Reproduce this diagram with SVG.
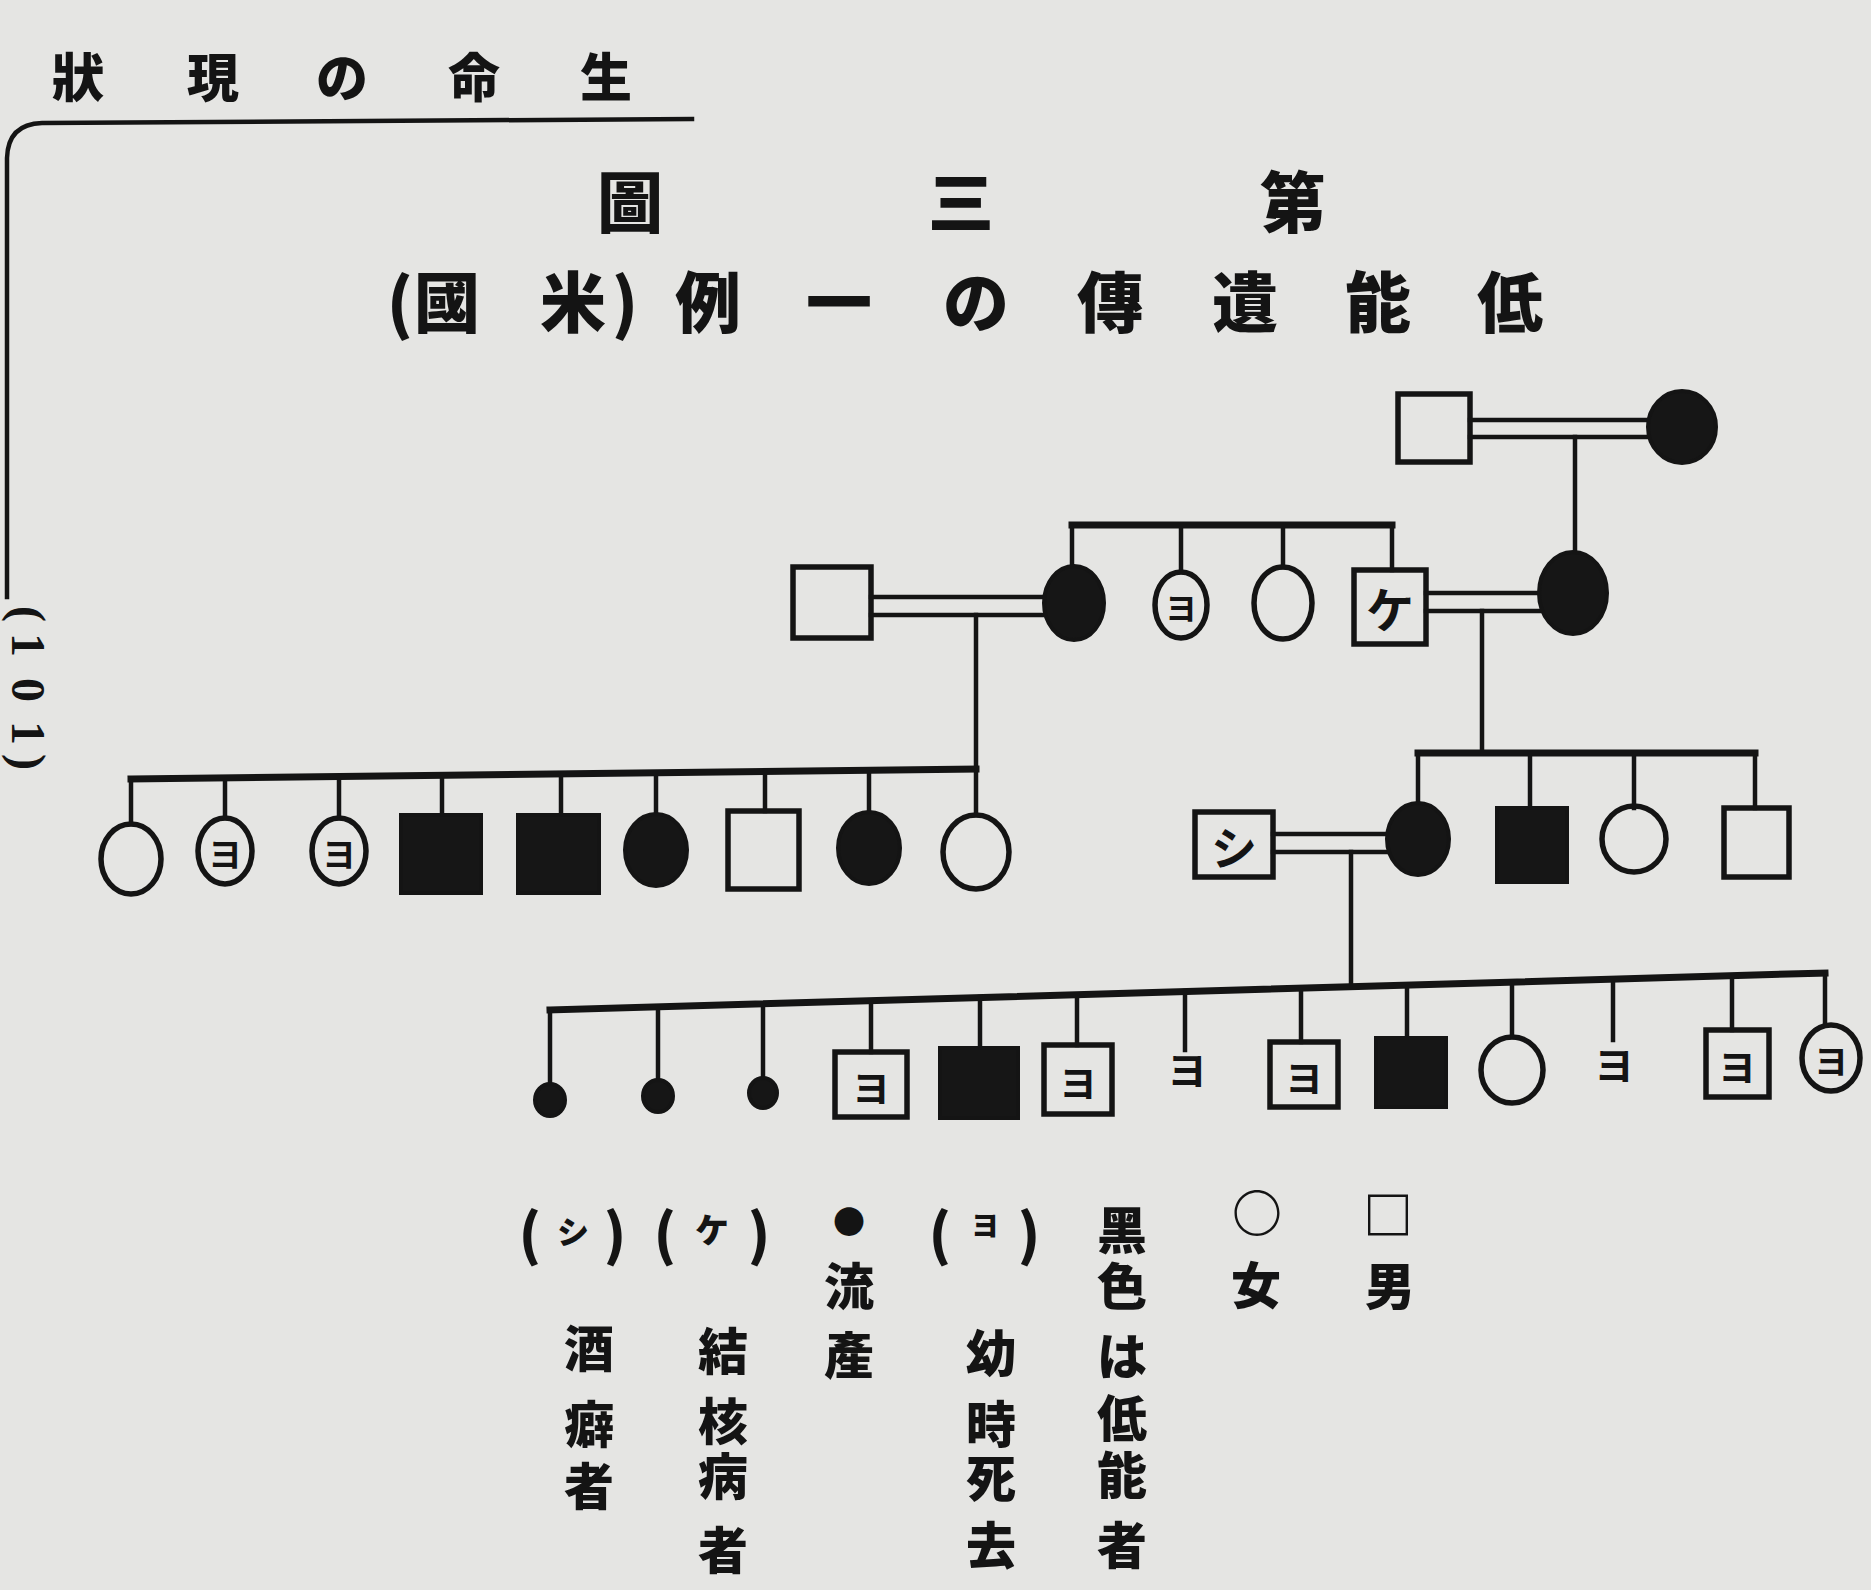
<svg xmlns="http://www.w3.org/2000/svg" width="1871" height="1590" viewBox="0 0 1871 1590">
<style>
.t{font-family:"Noto Sans CJK JP","Noto Sans CJK SC",sans-serif;font-weight:900;fill:#141414;text-anchor:middle;dominant-baseline:central}
.ln{stroke:#141414;fill:none;stroke-width:4.5;stroke-linecap:square}
.bar{stroke:#141414;fill:none;stroke-width:7;stroke-linecap:square}
.op{fill:none;stroke:#141414;stroke-width:5.5}
.fl{fill:#161616;stroke:#141414;stroke-width:4}
.in{font-family:"Noto Sans CJK JP",sans-serif;font-weight:700;fill:#141414;text-anchor:middle;dominant-baseline:central}
</style>
<rect width="1871" height="1590" fill="#e5e5e3"/>

<g id="header">
<text class="t" font-size="52" x="78 213 342 474 606" y="74">狀現の命生</text>
<path class="ln" d="M692 119 L42 123 Q8 124 7 158 L7 597"/>
<text font-family="Liberation Serif,serif" font-weight="700" font-size="48" fill="#141414" text-anchor="middle" transform="translate(12,0) rotate(90)" x="614 645 690 733 762" y="0">(101)</text>
</g>

<g id="title">
<text class="t" font-size="66" x="630 961 1293" y="198">圖三第</text>
<text class="t" font-size="66" x="400 447 573 625 708 839 976 1110 1245 1378 1510" y="298">(國米)例一の傳遺能低</text>
</g>

<g id="connectors">
<line class="ln" x1="1470" y1="420" x2="1650" y2="420"/>
<line class="ln" x1="1470" y1="437" x2="1650" y2="437"/>
<line class="ln" x1="1575" y1="437" x2="1575" y2="552"/>
<line class="bar" x1="1072" y1="525" x2="1392" y2="525"/>
<line class="ln" x1="1072" y1="525" x2="1072" y2="566"/>
<line class="ln" x1="1181" y1="525" x2="1181" y2="572"/>
<line class="ln" x1="1283" y1="525" x2="1283" y2="567"/>
<line class="ln" x1="1392" y1="525" x2="1392" y2="570"/>
<line class="ln" x1="871" y1="597" x2="1046" y2="597"/>
<line class="ln" x1="871" y1="615" x2="1046" y2="615"/>
<line class="ln" x1="976" y1="615" x2="976" y2="815"/>
<line class="ln" x1="1426" y1="593" x2="1541" y2="593"/>
<line class="ln" x1="1426" y1="611" x2="1541" y2="611"/>
<line class="ln" x1="1482" y1="611" x2="1482" y2="753"/>
<line class="bar" x1="131" y1="779" x2="976" y2="769"/>
<line class="ln" x1="131" y1="779" x2="131" y2="824"/>
<line class="ln" x1="225" y1="778" x2="225" y2="818"/>
<line class="ln" x1="339" y1="777" x2="339" y2="818"/>
<line class="ln" x1="442" y1="776" x2="442" y2="815"/>
<line class="ln" x1="561" y1="774" x2="561" y2="815"/>
<line class="ln" x1="656" y1="773" x2="656" y2="814"/>
<line class="ln" x1="765" y1="772" x2="765" y2="811"/>
<line class="ln" x1="869" y1="771" x2="869" y2="812"/>
<line class="bar" x1="1418" y1="753" x2="1755" y2="753"/>
<line class="ln" x1="1418" y1="753" x2="1418" y2="803"/>
<line class="ln" x1="1530" y1="753" x2="1530" y2="808"/>
<line class="ln" x1="1634" y1="753" x2="1634" y2="808"/>
<line class="ln" x1="1755" y1="753" x2="1755" y2="808"/>
<line class="ln" x1="1273" y1="834" x2="1390" y2="834"/>
<line class="ln" x1="1273" y1="852" x2="1390" y2="852"/>
<line class="ln" x1="1351" y1="852" x2="1351" y2="987"/>
<line class="bar" x1="550" y1="1010" x2="1825" y2="973"/>
<line class="ln" x1="550" y1="1010" x2="550" y2="1085"/>
<line class="ln" x1="658" y1="1007" x2="658" y2="1080"/>
<line class="ln" x1="763" y1="1004" x2="763" y2="1078"/>
<line class="ln" x1="871" y1="1001" x2="871" y2="1052"/>
<line class="ln" x1="980" y1="997" x2="980" y2="1048"/>
<line class="ln" x1="1077" y1="995" x2="1077" y2="1045"/>
<line class="ln" x1="1185" y1="991" x2="1185" y2="1050"/>
<line class="ln" x1="1301" y1="988" x2="1301" y2="1042"/>
<line class="ln" x1="1407" y1="985" x2="1407" y2="1038"/>
<line class="ln" x1="1512" y1="982" x2="1512" y2="1037"/>
<line class="ln" x1="1613" y1="979" x2="1613" y2="1040"/>
<line class="ln" x1="1732" y1="976" x2="1732" y2="1030"/>
<line class="ln" x1="1825" y1="973" x2="1825" y2="1025"/>
</g>

<g id="I1"><rect class="op" x="1398" y="394" width="72" height="68"/></g>
<g id="I2"><ellipse class="fl" cx="1682" cy="427" rx="34" ry="36"/></g>

<g id="II1"><rect class="op" x="793" y="567" width="78" height="71"/></g>
<g id="II2"><ellipse class="fl" cx="1074" cy="603" rx="30" ry="37"/></g>
<g id="II3"><ellipse class="op" cx="1181" cy="605" rx="26" ry="33"/><text class="in" font-size="32" x="1181" y="606">ヨ</text></g>
<g id="II4"><ellipse class="op" cx="1283" cy="603" rx="29" ry="36"/></g>
<g id="II5"><rect class="op" x="1354" y="570" width="72" height="74"/><text class="in" font-size="48" x="1390" y="607">ケ</text></g>
<g id="II6"><ellipse class="fl" cx="1573" cy="593" rx="34" ry="41"/></g>

<g id="III1"><ellipse class="op" cx="131" cy="859" rx="30" ry="35"/></g>
<g id="III2"><ellipse class="op" cx="225" cy="851" rx="27" ry="33"/><text class="in" font-size="34" x="225" y="852">ヨ</text></g>
<g id="III3"><ellipse class="op" cx="339" cy="851" rx="27" ry="33"/><text class="in" font-size="34" x="339" y="852">ヨ</text></g>
<g id="III4"><rect class="fl" x="401" y="815" width="80" height="78"/></g>
<g id="III5"><rect class="fl" x="518" y="815" width="81" height="78"/></g>
<g id="III6"><ellipse class="fl" cx="656" cy="850" rx="31" ry="36"/></g>
<g id="III7"><rect class="op" x="728" y="811" width="71" height="78"/></g>
<g id="III8"><ellipse class="fl" cx="869" cy="848" rx="31" ry="36"/></g>
<g id="III9"><ellipse class="op" cx="976" cy="852" rx="33" ry="37"/></g>

<g id="III10"><rect class="op" x="1195" y="812" width="78" height="65"/><text class="in" font-size="46" x="1234" y="845">シ</text></g>
<g id="III11"><ellipse class="fl" cx="1418" cy="839" rx="31" ry="36"/></g>
<g id="III12"><rect class="fl" x="1497" y="808" width="70" height="74"/></g>
<g id="III13"><ellipse class="op" cx="1634" cy="839" rx="32" ry="33"/></g>
<g id="III14"><rect class="op" x="1724" y="808" width="65" height="69"/></g>

<g id="IV1"><ellipse class="fl" cx="550" cy="1100" rx="15" ry="16"/></g>
<g id="IV2"><ellipse class="fl" cx="658" cy="1096" rx="15" ry="16"/></g>
<g id="IV3"><ellipse class="fl" cx="763" cy="1093" rx="14" ry="15"/></g>
<g id="IV4"><rect class="op" x="835" y="1052" width="72" height="65"/><text class="in" font-size="38" x="871" y="1085">ヨ</text></g>
<g id="IV5"><rect class="fl" x="940" y="1048" width="78" height="70"/></g>
<g id="IV6"><rect class="op" x="1044" y="1045" width="68" height="69"/><text class="in" font-size="38" x="1078" y="1080">ヨ</text></g>
<g id="IV7"><text class="in" font-size="40" x="1187" y="1068">ヨ</text></g>
<g id="IV8"><rect class="op" x="1270" y="1042" width="68" height="65"/><text class="in" font-size="38" x="1304" y="1075">ヨ</text></g>
<g id="IV9"><rect class="fl" x="1376" y="1038" width="70" height="69"/></g>
<g id="IV10"><ellipse class="op" cx="1512" cy="1070" rx="31" ry="33"/></g>
<g id="IV11"><text class="in" font-size="40" x="1614" y="1063">ヨ</text></g>
<g id="IV12"><rect class="op" x="1706" y="1030" width="63" height="67"/><text class="in" font-size="38" x="1737" y="1064">ヨ</text></g>
<g id="IV13"><ellipse class="op" cx="1831" cy="1058" rx="29" ry="33"/><text class="in" font-size="34" x="1831" y="1059">ヨ</text></g>

<g id="legend">
<text class="t" font-size="50" x="1388" y="1212">□</text>
<text class="t" font-size="50" x="1390" y="1283">男</text>
<text class="t" font-size="50" x="1257" y="1210">○</text>
<text class="t" font-size="50" x="1256" y="1282">女</text>
<text class="t" font-size="50" x="1122 1122 1122 1122 1122 1122" y="1227 1283 1353 1415 1472 1542">黑色は低能者</text>
<text class="t" font-size="56" x="940" y="1230">(</text>
<text class="t" font-size="28" x="985" y="1224">ヨ</text>
<text class="t" font-size="56" x="1029" y="1230">)</text>
<text class="t" font-size="50" x="991 991 991 991" y="1350 1421 1475 1542">幼時死去</text>
<text class="t" font-size="32" x="849" y="1220">●</text>
<text class="t" font-size="50" x="849 849" y="1283 1352">流產</text>
<text class="t" font-size="56" x="665" y="1230">(</text>
<text class="t" font-size="34" x="712" y="1228">ケ</text>
<text class="t" font-size="56" x="759" y="1230">)</text>
<text class="t" font-size="50" x="723 723 723 723" y="1348 1418 1473 1547">結核病者</text>
<text class="t" font-size="56" x="530" y="1230">(</text>
<text class="t" font-size="32" x="573" y="1230">シ</text>
<text class="t" font-size="56" x="615" y="1230">)</text>
<text class="t" font-size="50" x="589 589 589" y="1345 1421 1483">酒癖者</text>
</g>
</svg>
